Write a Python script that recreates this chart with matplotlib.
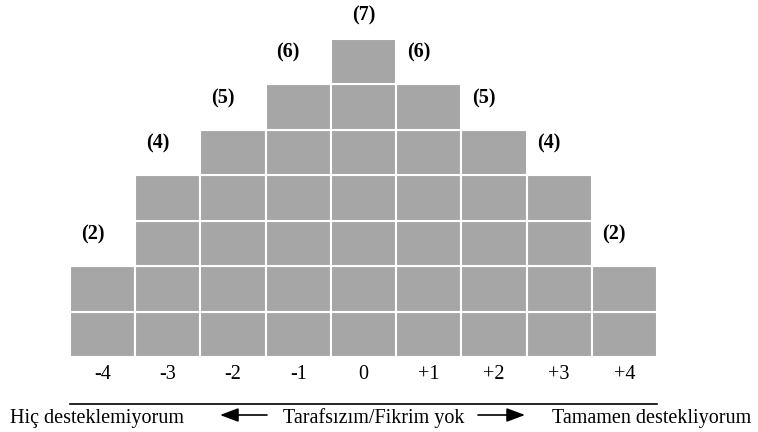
import matplotlib.pyplot as plt
from matplotlib.patches import FancyArrowPatch

# Q-sort grid data
scores = ['-4', '-3', '-2', '-1', '0', '+1', '+2', '+3', '+4']
counts = [2, 4, 5, 6, 7, 6, 5, 4, 2]
left_text = 'Hiç desteklemiyorum'
mid_text = 'Tarafsızım/Fikrim yok'
right_text = 'Tamamen destekliyorum'

plt.rcParams['font.family'] = ['Liberation Serif', 'DejaVu Serif']

W, H = 758, 432
fig = plt.figure(figsize=(W / 100, H / 100), dpi=100)
ax = fig.add_axes([70 / W, (H - 357) / H, 587 / W, 318 / H])

x = range(len(scores))
# stack one cell per row so every cell gets a white border
for level in range(max(counts)):
    h = [1 if c > level else 0 for c in counts]
    ax.bar(x, h, bottom=level, width=1.0, color='#a6a6a6',
           edgecolor='white', linewidth=1.5)

mid = len(counts) // 2
for i, c in enumerate(counts):
    dx = 0 if i == mid else -0.155
    ax.text(i + dx, min(c + 0.7, 7.52), '(%d)' % c, ha='center', va='center',
            fontsize=14.5, fontweight='bold')

ax.set_xlim(-0.5, len(scores) - 0.5)
ax.set_ylim(0, max(counts))
ax.set_xticks(list(x))
ax.set_xticklabels(scores, fontsize=14.5)
ax.tick_params(length=0, pad=6)
ax.set_yticks([])
for s in ax.spines.values():
    s.set_visible(False)

# bottom scale line and captions
fig.add_artist(plt.Line2D([70 / W, 657 / W], [1 - 404 / H, 1 - 404 / H],
                          color='black', linewidth=1.2))
ty = 1 - 423 / H
fig.text(10 / W, ty, left_text, ha='left', va='baseline', fontsize=14.5)
fig.text(373.5 / W, ty, mid_text, ha='center', va='baseline', fontsize=14.5)
fig.text(751 / W, ty, right_text, ha='right', va='baseline', fontsize=14.5)
ay = 1 - 415 / H
arrow = dict(arrowstyle='-|>,head_length=0.8,head_width=0.3', color='black',
             lw=1.2, mutation_scale=14, shrinkA=0, shrinkB=0,
             transform=fig.transFigure)
fig.add_artist(FancyArrowPatch((267 / W, ay), (220 / W, ay), **arrow))
fig.add_artist(FancyArrowPatch((478 / W, ay), (525 / W, ay), **arrow))

fig.savefig('out.png', dpi=100)
